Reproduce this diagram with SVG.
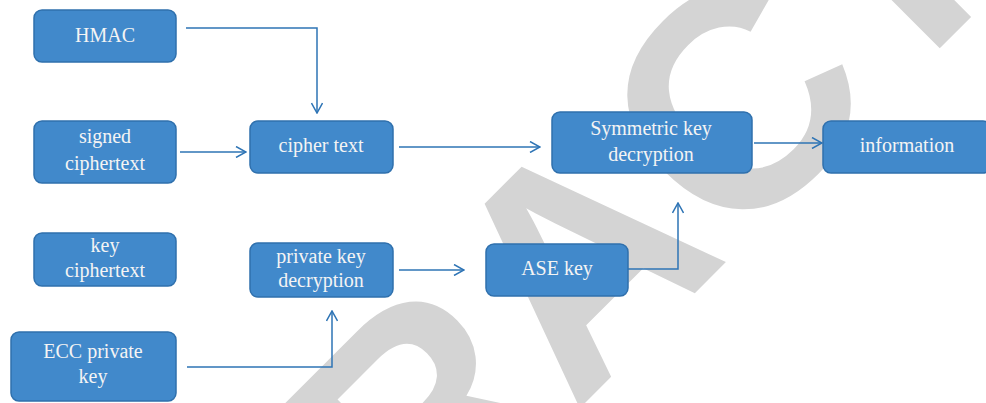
<svg xmlns="http://www.w3.org/2000/svg" width="986" height="403" viewBox="0 0 986 403">
<style>
.box{fill:#4189cb;stroke:#2f70ad;stroke-width:1.5}
.lbl{font-family:"Liberation Serif","Times New Roman",serif;font-size:20px;fill:#f4f4f4;text-anchor:middle}
.conn{fill:none;stroke:#2e74b5;stroke-width:1.5}
.wm{font-family:"Liberation Sans",Arial,sans-serif;font-weight:bold;font-size:308px;fill:#d4d4d4;text-anchor:middle}
</style>
<defs>
<marker id="arr" viewBox="0 0 12 12" refX="11" refY="6" markerWidth="12" markerHeight="12" markerUnits="userSpaceOnUse" orient="auto">
<path d="M1,0.5 L11,6 L1,11.5" fill="none" stroke="#2e74b5" stroke-width="1.5"/>
</marker>
</defs>
<rect width="986" height="403" fill="#ffffff"/>
<text class="wm" transform="translate(653,335) rotate(-45)" x="0" y="0">RETRACTED</text>
<g id="connectors">
<path class="conn" d="M186,28 L317,28 L317,113" marker-end="url(#arr)"/>
<path class="conn" d="M180,152 L246,152" marker-end="url(#arr)"/>
<path class="conn" d="M399,147 L540,147" marker-end="url(#arr)"/>
<path class="conn" d="M754,143 L822,143" marker-end="url(#arr)"/>
<path class="conn" d="M399,270 L464,270" marker-end="url(#arr)"/>
<path class="conn" d="M628,269 L678,269 L678,203" marker-end="url(#arr)"/>
<path class="conn" d="M187,367 L332,367 L332,311" marker-end="url(#arr)"/>
</g>
<g id="hmac"><rect class="box" x="34" y="10" width="142" height="52" rx="8"/><text class="lbl" x="105" y="42">HMAC</text></g>
<g id="signed-ciphertext"><rect class="box" x="34" y="121" width="142" height="62" rx="8"/><text class="lbl" x="105" y="143">signed</text><text class="lbl" x="105" y="170">ciphertext</text></g>
<g id="cipher-text"><rect class="box" x="250" y="121" width="143" height="52" rx="8"/><text class="lbl" x="321" y="152">cipher text</text></g>
<g id="key-ciphertext"><rect class="box" x="34" y="233" width="142" height="53" rx="8"/><text class="lbl" x="105" y="252">key</text><text class="lbl" x="105" y="277">ciphertext</text></g>
<g id="private-key-decryption"><rect class="box" x="250" y="243" width="143" height="54" rx="8"/><text class="lbl" x="321" y="263">private key</text><text class="lbl" x="321" y="287">decryption</text></g>
<g id="ecc-private-key"><rect class="box" x="11" y="332" width="165" height="69" rx="8"/><text class="lbl" x="93" y="358">ECC private</text><text class="lbl" x="93" y="383">key</text></g>
<g id="symmetric-key-decryption"><rect class="box" x="552" y="112" width="200" height="61" rx="8"/><text class="lbl" x="651" y="135">Symmetric key</text><text class="lbl" x="651" y="161">decryption</text></g>
<g id="information"><rect class="box" x="823" y="121" width="168" height="52" rx="8"/><text class="lbl" x="907" y="152">information</text></g>
<g id="ase-key"><rect class="box" x="486" y="244" width="142" height="52" rx="8"/><text class="lbl" x="557" y="275">ASE key</text></g>
</svg>
